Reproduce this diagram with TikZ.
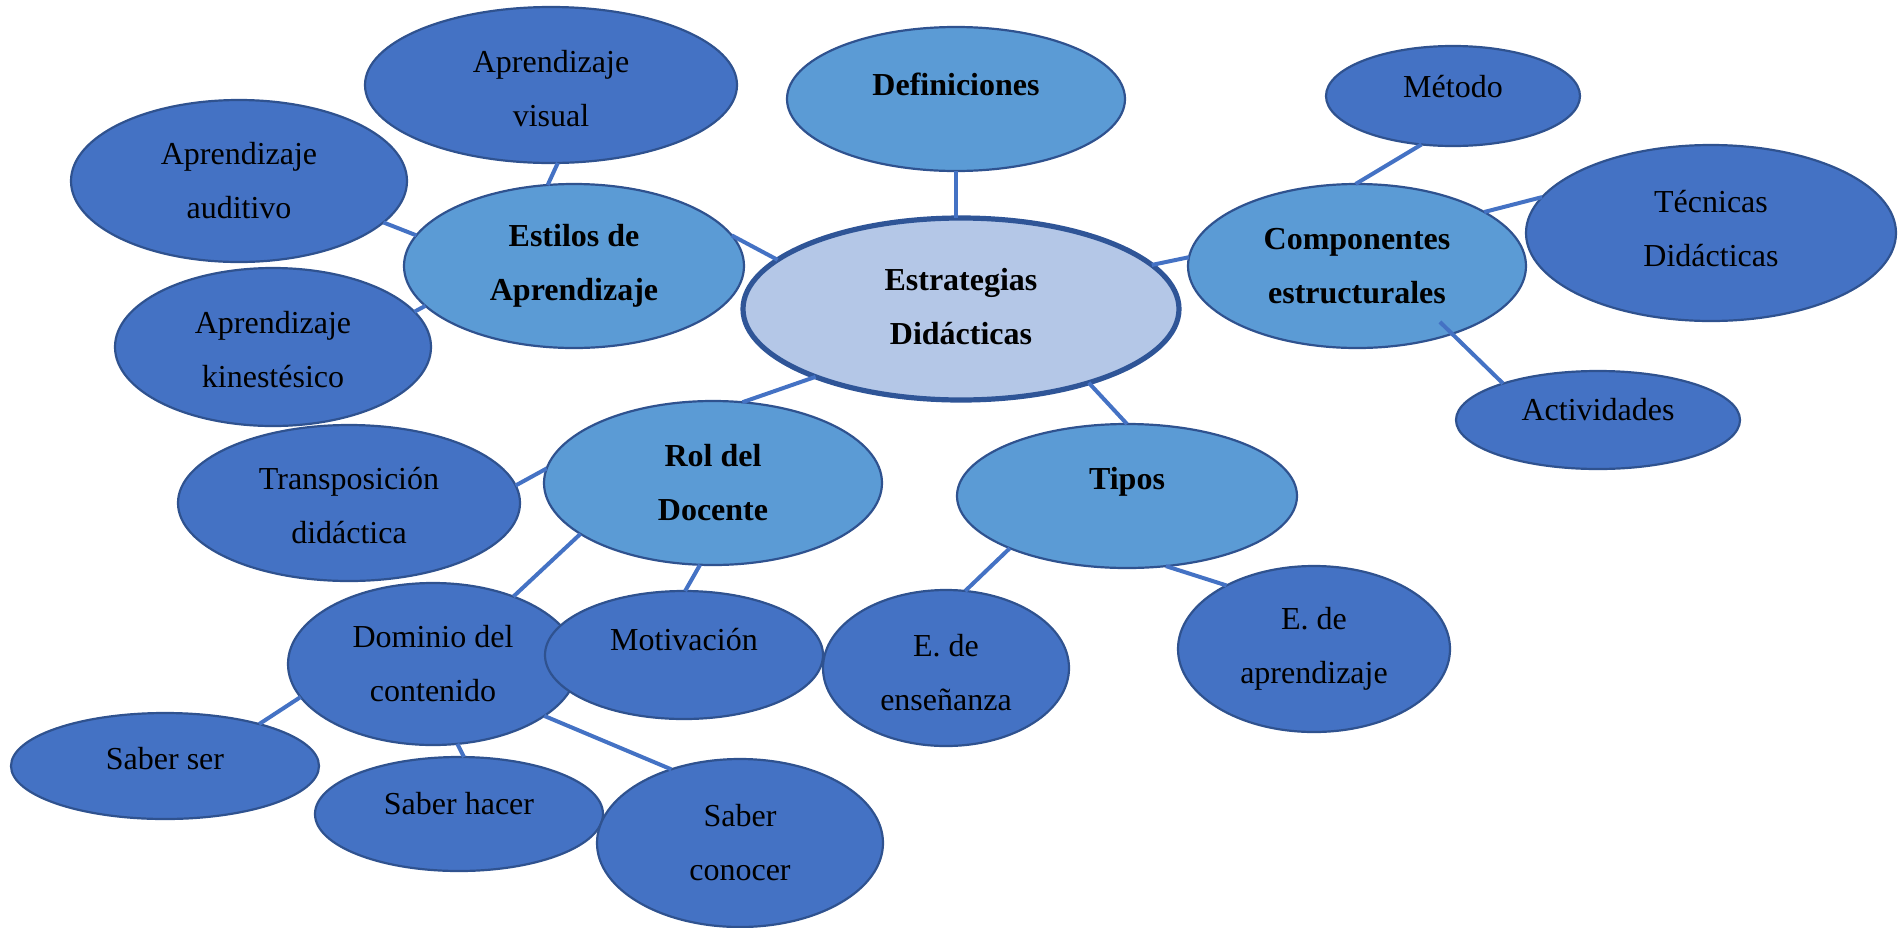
\documentclass[tikz,border=0pt]{standalone}
\usepackage{fontspec}
\setmainfont{Liberation Serif}
\usetikzlibrary{shapes.geometric,calc}
\definecolor{dk}{HTML}{4472C4}
\definecolor{md}{HTML}{5B9BD5}
\definecolor{lt}{HTML}{B4C7E7}
\definecolor{bd}{HTML}{2F528F}
\definecolor{cbd}{HTML}{2F5597}
\definecolor{ln}{HTML}{4472C4}
\begin{document}
\begin{tikzpicture}[x=0.5pt,y=-0.5pt,
 base/.style={ellipse, inner sep=0pt, outer sep=0pt, draw=bd, line width=1.1pt},
 leaf/.style={base, fill=dk},
 mid/.style={base, fill=md},
 core/.style={base, fill=lt, line width=2.6pt, draw=cbd},
 txt/.style={align=center, font=\fontsize{16}{27}\selectfont, text=black, inner sep=0pt},
 btxt/.style={txt, font=\fontsize{16}{27}\selectfont\bfseries},
 conn/.style={draw=ln, line width=2pt},
]
\useasboundingbox (0,0) rectangle (1902,927);

% main
\node[core, minimum width=218pt, minimum height=91pt, label={[btxt,yshift=1pt]center:{Estrategias\\Didácticas}}] (central) at (961,309) {};
\node[mid, minimum width=169pt, minimum height=72pt, label={[btxt,yshift=7.5pt]center:{Definiciones}}] (def) at (956,99) {};

% estilos
\node[mid, minimum width=170pt, minimum height=82pt, label={[btxt]center:{Estilos de\\Aprendizaje}}] (estilos) at (574,266) {};
\node[leaf, minimum width=186pt, minimum height=78pt, label={[txt,yshift=-2pt]center:{Aprendizaje\\visual}}] (visual) at (551,85) {};
\node[leaf, minimum width=168pt, minimum height=81pt, label={[txt]center:{Aprendizaje\\auditivo}}] (auditivo) at (239,181) {};
\node[leaf, minimum width=158pt, minimum height=79pt, label={[txt,yshift=-1.5pt]center:{Aprendizaje\\kinestésico}}] (kine) at (273,347) {};

% componentes
\node[mid, minimum width=169pt, minimum height=82pt, label={[btxt]center:{Componentes\\estructurales}}] (comp) at (1357,266) {};
\node[leaf, minimum width=127pt, minimum height=50pt, label={[txt,yshift=4.5pt]center:{Método}}] (metodo) at (1453,96) {};
\node[leaf, minimum width=185pt, minimum height=88pt, label={[txt,yshift=2pt]center:{Técnicas\\Didácticas}}] (tecnicas) at (1711,233) {};
\node[leaf, minimum width=142pt, minimum height=49pt, label={[txt,yshift=5pt]center:{Actividades}}] (activ) at (1598,420) {};

% tipos
\node[mid, minimum width=170pt, minimum height=72pt, label={[btxt,yshift=7pt]center:{Tipos}}] (tipos) at (1127,496) {};
\node[leaf, minimum width=123pt, minimum height=78pt, label={[txt,yshift=-2.5pt]center:{E. de\\enseñanza}}] (ense) at (946,668) {};
\node[leaf, minimum width=136pt, minimum height=83pt, label={[txt]center:{E. de\\aprendizaje}}] (aprend) at (1314,649) {};

% rol
\node[mid, minimum width=169pt, minimum height=82pt, label={[btxt]center:{Rol del\\Docente}}] (rol) at (713,483) {};
\node[leaf, minimum width=171pt, minimum height=78pt, label={[txt,yshift=-1.5pt]center:{Transposición\\didáctica}}] (transp) at (349,503) {};
\node[leaf, minimum width=145pt, minimum height=81pt, label={[txt]center:{Dominio del\\contenido}}] (dominio) at (433,664) {};
\node[leaf, minimum width=139pt, minimum height=64pt, label={[txt,yshift=7.5pt]center:{Motivación}}] (motiv) at (684,655) {};
\node[leaf, minimum width=154pt, minimum height=53pt, label={[txt,yshift=3.5pt]center:{Saber ser}}] (ser) at (165,766) {};
\node[leaf, minimum width=144pt, minimum height=57pt, label={[txt,yshift=5pt]center:{Saber hacer}}] (hacer) at (459,814) {};
\node[leaf, minimum width=143pt, minimum height=84pt, label={[txt]center:{Saber\\conocer}}] (conocer) at (740,843) {};

% connectors
\draw[conn] (def.south) -- (def.south |- central.north);
\draw[conn] (estilos.11.6) -- (central.165.3);
\draw[conn] (visual.-85) -- (estilos.108);
\draw[conn] (auditivo.-16.7) -- (estilos.169.3);
\draw[conn] (kine.14) -- (estilos.195);
\draw[conn] (central.13) -- (comp.177.3);
\draw[conn] (metodo.237.6) -- (comp.91.5);
\draw[conn] (tecnicas.168.2) -- (comp.23.3);
\draw[conn] (activ.159.7) -- ($(comp.center)!0.84!(comp.-34)$);
\draw[conn] (central.-30.2) -- (tipos.90.8);
\draw[conn] (ense.76.5) -- (tipos.204.4);
\draw[conn] (aprend.144.2) -- (tipos.-61.4);
\draw[conn] (rol.70.7) -- (central.205.6);
\draw[conn] (transp.6.1) -- (rol.175.2);
\draw[conn] (dominio.40.1) -- (rol.201.6);
\draw[conn] (motiv.89) -- (rol.261);
\draw[conn] (ser.24.3) -- (dominio.194);
\draw[conn] (hacer.85) -- (dominio.-73.9);
\draw[conn] (conocer.133.8) -- (dominio.-25.7);
\end{tikzpicture}
\end{document}
